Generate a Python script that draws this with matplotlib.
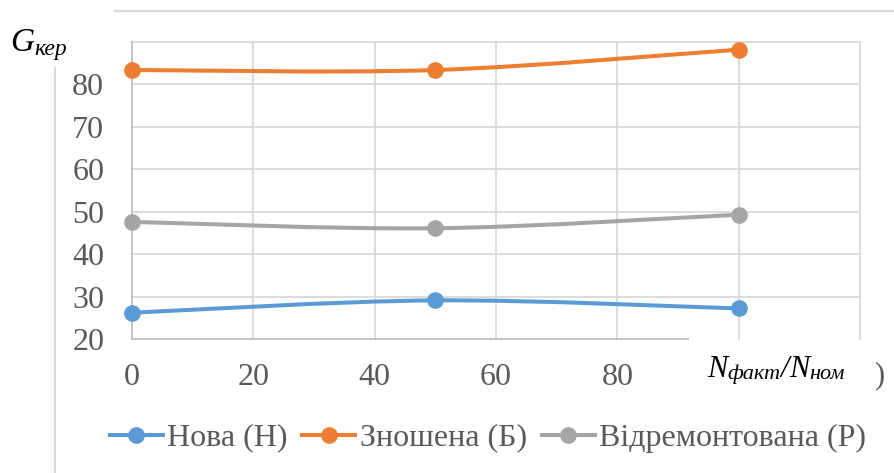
import numpy as np
import matplotlib
matplotlib.use("Agg")
import matplotlib.pyplot as plt
from matplotlib.path import Path
from matplotlib.patches import PathPatch
from matplotlib.lines import Line2D

# data
load_pct = [0, 50, 100]
g_new = [26.2, 29.1, 27.2]
g_worn = [83.4, 83.4, 88.2]
g_repaired = [47.6, 46.1, 49.3]

series_names = ["Нова (Н)", "Зношена (Б)", "Відремонтована (Р)"]
series_colors = ["#5B9BD5", "#ED7D31", "#A5A5A5"]

x_ticks = [0, 20, 40, 60, 80, 100, 120]
x_tick_labels = ["0", "20", "40", "60", "80", "", ""]
y_ticks = [20, 30, 40, 50, 60, 70, 80, 90]
y_tick_labels = ["20", "30", "40", "50", "60", "70", "80", ""]

W, H = 894, 473
SERIF = "Liberation Serif"
GREY_TXT = "#595959"
plt.rcParams["font.family"] = [SERIF, "DejaVu Serif"]


def smooth_path(xs, ys):
    # Excel-style smoothed line: cubic bezier segments through the points
    pts = np.column_stack([xs, ys]).astype(float)
    n = len(pts)
    verts = [pts[0]]
    codes = [Path.MOVETO]
    for i in range(n - 1):
        p0 = pts[i - 1] if i > 0 else pts[i]
        p1 = pts[i]
        p2 = pts[i + 1]
        p3 = pts[i + 2] if i + 2 < n else pts[i + 1]
        c1 = p1 + (p2 - p0) / 6.0
        c2 = p2 - (p3 - p1) / 6.0
        verts += [c1, c2, p2]
        codes += [Path.CURVE4] * 3
    return Path(verts, codes)


fig = plt.figure(figsize=(W / 100, H / 100), dpi=100)
ax = fig.add_axes([132 / W, 1 - 339 / H, (860 - 132) / W, (339 - 42) / H])
ax.set_xlim(0, 120)
ax.set_ylim(20, 90)

for xv in x_ticks[1:]:
    ax.axvline(xv, color="#D9D9D9", lw=1.3, zorder=0, clip_on=False)
for yv in y_ticks[1:]:
    ax.axhline(yv, color="#D9D9D9", lw=1.3, zorder=0, clip_on=False)

for sp in ["top", "right"]:
    ax.spines[sp].set_visible(False)
ax.spines["left"].set_color("#BFBFBF")
ax.spines["bottom"].set_color("#BFBFBF")
ax.spines["left"].set_linewidth(1.3)
ax.spines["bottom"].set_linewidth(1.3)
ax.spines["bottom"].set_bounds(0, 91.6)

for ys, name, col in zip([g_new, g_worn, g_repaired], series_names, series_colors):
    ax.add_patch(PathPatch(smooth_path(load_pct, ys), fill=False,
                           edgecolor=col, lw=2.9, zorder=3, capstyle="round"))
    ax.plot(load_pct, ys, ls="none", marker="o", ms=11, color=col, zorder=4,
            clip_on=False)

ax.set_xticks(x_ticks)
ax.set_xticklabels(x_tick_labels)
ax.set_yticks(y_ticks)
ax.set_yticklabels(y_tick_labels)
ax.tick_params(length=0, labelsize=23, labelcolor=GREY_TXT)
ax.tick_params(axis="y", pad=20)
ax.tick_params(axis="x", pad=17)

handles = [Line2D([], [], color=c, lw=2.9, marker="o", ms=11) for c in series_colors]
leg = fig.legend(handles, series_names, loc="center", bbox_to_anchor=(488 / W, 1 - 438 / H),
                 ncol=3, frameon=False, handlelength=1.66, handletextpad=0.15,
                 columnspacing=0.45, prop={"family": SERIF, "size": 23})
for t in leg.get_texts():
    t.set_color(GREY_TXT)

# frame remnants of the original chart
fig.add_artist(Line2D([115 / W, 1], [1 - 11 / H] * 2, color="#D9D9D9", lw=1.5))
fig.add_artist(Line2D([55 / W] * 2, [1 - 68 / H, 0], color="#D9D9D9", lw=1.5))


def pieces(x0, y0, parts):
    # write text parts one after the other, pixel coords (y from top)
    fig.canvas.draw()
    r = fig.canvas.get_renderer()
    x = x0
    for s, size, dy in parts:
        t = fig.text(x / W, 1 - (y0 + dy) / H, s, fontsize=size, family=SERIF,
                     style="italic", color="black", ha="left", va="baseline")
        bb = t.get_window_extent(renderer=r)
        x += bb.width


pieces(10, 51, [("G", 24, 0), ("кер", 17, 4)])
pieces(707, 377, [("N", 22, 0), ("факт", 16, 2), ("/", 22, 0), ("N", 22, 0), ("ном", 16, 2)])
fig.text(874 / W, 1 - 383 / H, ")", fontsize=22, family=SERIF, color=GREY_TXT,
         ha="left", va="baseline")

fig.savefig("out.png", dpi=100)
